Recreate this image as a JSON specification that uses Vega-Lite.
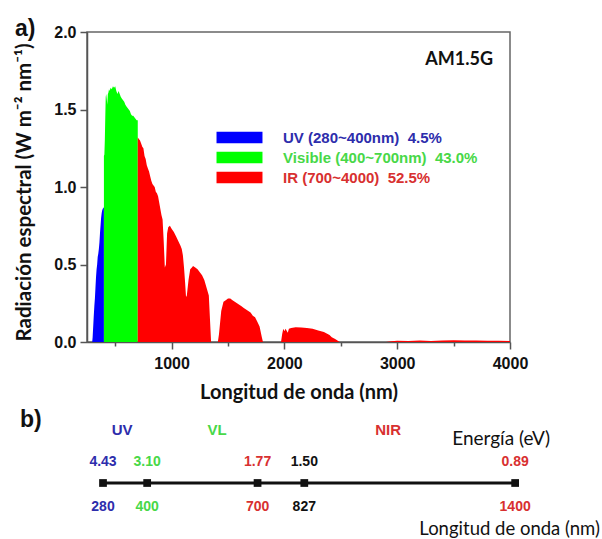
{
  "$schema": "https://vega.github.io/schema/vega-lite/v6.json",
  "padding": {"left": 14, "top": 17, "right": 0, "bottom": 0},
  "background": "white",
  "bounds": "flush",
  "spacing": 91,
  "config": {"view": {"stroke": null}, "font": "Liberation Sans"},
  "resolve": {"scale": {"color": "independent"}},
  "vconcat": [
    {
      "width": 423,
      "height": 310,
      "title": {"text": "a)", "anchor": "start", "frame": "group", "dx": -72, "fontSize": 23, "fontWeight": "bold", "font": "Liberation Sans", "color": "#111", "baseline": "alphabetic", "offset": -35},
      "view": {"stroke": "#666", "strokeWidth": 1.5},
      "layer": [
        {
          "data": {"values": [
            {"band": "UV", "wl": 280, "val": 0}, {"band": "UV", "wl": 296, "val": 0}, {"band": "UV", "wl": 300, "val": 0.03},
            {"band": "UV", "wl": 305, "val": 0.1}, {"band": "UV", "wl": 310, "val": 0.17}, {"band": "UV", "wl": 315, "val": 0.23},
            {"band": "UV", "wl": 320, "val": 0.28}, {"band": "UV", "wl": 325, "val": 0.35}, {"band": "UV", "wl": 330, "val": 0.42},
            {"band": "UV", "wl": 335, "val": 0.47}, {"band": "UV", "wl": 340, "val": 0.5}, {"band": "UV", "wl": 345, "val": 0.55},
            {"band": "UV", "wl": 350, "val": 0.57}, {"band": "UV", "wl": 355, "val": 0.6}, {"band": "UV", "wl": 360, "val": 0.64},
            {"band": "UV", "wl": 365, "val": 0.7}, {"band": "UV", "wl": 370, "val": 0.75}, {"band": "UV", "wl": 375, "val": 0.8},
            {"band": "UV", "wl": 380, "val": 0.83}, {"band": "UV", "wl": 385, "val": 0.85}, {"band": "UV", "wl": 390, "val": 0.86},
            {"band": "UV", "wl": 400, "val": 0.87},
            {"band": "Visible", "wl": 400, "val": 1.2}, {"band": "Visible", "wl": 404, "val": 1.21}, {"band": "Visible", "wl": 408, "val": 1.3},
            {"band": "Visible", "wl": 412, "val": 1.45}, {"band": "Visible", "wl": 416, "val": 1.58}, {"band": "Visible", "wl": 420, "val": 1.6},
            {"band": "Visible", "wl": 425, "val": 1.57}, {"band": "Visible", "wl": 430, "val": 1.53}, {"band": "Visible", "wl": 435, "val": 1.6},
            {"band": "Visible", "wl": 440, "val": 1.61}, {"band": "Visible", "wl": 445, "val": 1.63}, {"band": "Visible", "wl": 450, "val": 1.62},
            {"band": "Visible", "wl": 460, "val": 1.64}, {"band": "Visible", "wl": 470, "val": 1.63}, {"band": "Visible", "wl": 480, "val": 1.65},
            {"band": "Visible", "wl": 490, "val": 1.64}, {"band": "Visible", "wl": 500, "val": 1.65}, {"band": "Visible", "wl": 510, "val": 1.62},
            {"band": "Visible", "wl": 520, "val": 1.6}, {"band": "Visible", "wl": 530, "val": 1.62}, {"band": "Visible", "wl": 540, "val": 1.6},
            {"band": "Visible", "wl": 550, "val": 1.58}, {"band": "Visible", "wl": 560, "val": 1.57}, {"band": "Visible", "wl": 570, "val": 1.56},
            {"band": "Visible", "wl": 580, "val": 1.55}, {"band": "Visible", "wl": 590, "val": 1.53}, {"band": "Visible", "wl": 600, "val": 1.52},
            {"band": "Visible", "wl": 610, "val": 1.51}, {"band": "Visible", "wl": 620, "val": 1.5}, {"band": "Visible", "wl": 630, "val": 1.49},
            {"band": "Visible", "wl": 640, "val": 1.47}, {"band": "Visible", "wl": 650, "val": 1.46}, {"band": "Visible", "wl": 660, "val": 1.46},
            {"band": "Visible", "wl": 670, "val": 1.45}, {"band": "Visible", "wl": 680, "val": 1.44}, {"band": "Visible", "wl": 690, "val": 1.43},
            {"band": "Visible", "wl": 700, "val": 1.43},
            {"band": "IR", "wl": 700, "val": 1.32}, {"band": "IR", "wl": 710, "val": 1.31}, {"band": "IR", "wl": 720, "val": 1.3},
            {"band": "IR", "wl": 730, "val": 1.28}, {"band": "IR", "wl": 740, "val": 1.26}, {"band": "IR", "wl": 750, "val": 1.25},
            {"band": "IR", "wl": 760, "val": 1.2}, {"band": "IR", "wl": 770, "val": 1.18}, {"band": "IR", "wl": 780, "val": 1.14},
            {"band": "IR", "wl": 790, "val": 1.12}, {"band": "IR", "wl": 800, "val": 1.1}, {"band": "IR", "wl": 810, "val": 1.07},
            {"band": "IR", "wl": 820, "val": 1.04}, {"band": "IR", "wl": 830, "val": 1.02}, {"band": "IR", "wl": 840, "val": 1.01},
            {"band": "IR", "wl": 850, "val": 1.0}, {"band": "IR", "wl": 860, "val": 0.97}, {"band": "IR", "wl": 870, "val": 0.96},
            {"band": "IR", "wl": 880, "val": 0.94}, {"band": "IR", "wl": 890, "val": 0.9}, {"band": "IR", "wl": 900, "val": 0.86},
            {"band": "IR", "wl": 910, "val": 0.82}, {"band": "IR", "wl": 920, "val": 0.79}, {"band": "IR", "wl": 930, "val": 0.65},
            {"band": "IR", "wl": 940, "val": 0.48}, {"band": "IR", "wl": 950, "val": 0.5}, {"band": "IR", "wl": 960, "val": 0.7},
            {"band": "IR", "wl": 970, "val": 0.74}, {"band": "IR", "wl": 985, "val": 0.75}, {"band": "IR", "wl": 1000, "val": 0.73},
            {"band": "IR", "wl": 1020, "val": 0.71}, {"band": "IR", "wl": 1040, "val": 0.68}, {"band": "IR", "wl": 1060, "val": 0.65},
            {"band": "IR", "wl": 1080, "val": 0.62}, {"band": "IR", "wl": 1090, "val": 0.6}, {"band": "IR", "wl": 1100, "val": 0.56},
            {"band": "IR", "wl": 1110, "val": 0.48}, {"band": "IR", "wl": 1120, "val": 0.38}, {"band": "IR", "wl": 1128, "val": 0.29},
            {"band": "IR", "wl": 1135, "val": 0.3}, {"band": "IR", "wl": 1150, "val": 0.4}, {"band": "IR", "wl": 1165, "val": 0.47},
            {"band": "IR", "wl": 1180, "val": 0.48}, {"band": "IR", "wl": 1190, "val": 0.49}, {"band": "IR", "wl": 1210, "val": 0.48},
            {"band": "IR", "wl": 1230, "val": 0.47}, {"band": "IR", "wl": 1250, "val": 0.45}, {"band": "IR", "wl": 1270, "val": 0.43},
            {"band": "IR", "wl": 1290, "val": 0.4}, {"band": "IR", "wl": 1310, "val": 0.35}, {"band": "IR", "wl": 1330, "val": 0.3},
            {"band": "IR", "wl": 1340, "val": 0.15}, {"band": "IR", "wl": 1350, "val": 0}, {"band": "IR", "wl": 1410, "val": 0},
            {"band": "IR", "wl": 1420, "val": 0.05}, {"band": "IR", "wl": 1440, "val": 0.2}, {"band": "IR", "wl": 1460, "val": 0.26},
            {"band": "IR", "wl": 1480, "val": 0.27}, {"band": "IR", "wl": 1500, "val": 0.28}, {"band": "IR", "wl": 1520, "val": 0.28},
            {"band": "IR", "wl": 1540, "val": 0.27}, {"band": "IR", "wl": 1560, "val": 0.26}, {"band": "IR", "wl": 1580, "val": 0.25},
            {"band": "IR", "wl": 1600, "val": 0.24}, {"band": "IR", "wl": 1620, "val": 0.23}, {"band": "IR", "wl": 1640, "val": 0.22},
            {"band": "IR", "wl": 1660, "val": 0.21}, {"band": "IR", "wl": 1680, "val": 0.2}, {"band": "IR", "wl": 1700, "val": 0.19},
            {"band": "IR", "wl": 1720, "val": 0.17}, {"band": "IR", "wl": 1740, "val": 0.16}, {"band": "IR", "wl": 1760, "val": 0.13},
            {"band": "IR", "wl": 1780, "val": 0.1}, {"band": "IR", "wl": 1800, "val": 0.03}, {"band": "IR", "wl": 1810, "val": 0},
            {"band": "IR", "wl": 1970, "val": 0}, {"band": "IR", "wl": 1980, "val": 0.05}, {"band": "IR", "wl": 1990, "val": 0.085},
            {"band": "IR", "wl": 2000, "val": 0.07}, {"band": "IR", "wl": 2010, "val": 0.085}, {"band": "IR", "wl": 2030, "val": 0.06},
            {"band": "IR", "wl": 2040, "val": 0.085}, {"band": "IR", "wl": 2060, "val": 0.09}, {"band": "IR", "wl": 2100, "val": 0.095},
            {"band": "IR", "wl": 2150, "val": 0.093}, {"band": "IR", "wl": 2200, "val": 0.09}, {"band": "IR", "wl": 2250, "val": 0.085},
            {"band": "IR", "wl": 2300, "val": 0.075}, {"band": "IR", "wl": 2350, "val": 0.065}, {"band": "IR", "wl": 2400, "val": 0.045},
            {"band": "IR", "wl": 2420, "val": 0.03}, {"band": "IR", "wl": 2450, "val": 0.02}, {"band": "IR", "wl": 2490, "val": 0},
            {"band": "IR", "wl": 2900, "val": 0}, {"band": "IR", "wl": 2950, "val": 0.005}, {"band": "IR", "wl": 3000, "val": 0.008},
            {"band": "IR", "wl": 3100, "val": 0.006}, {"band": "IR", "wl": 3200, "val": 0.01}, {"band": "IR", "wl": 3300, "val": 0.006},
            {"band": "IR", "wl": 3400, "val": 0.01}, {"band": "IR", "wl": 3500, "val": 0.012}, {"band": "IR", "wl": 3600, "val": 0.01},
            {"band": "IR", "wl": 3700, "val": 0.009}, {"band": "IR", "wl": 3800, "val": 0.008}, {"band": "IR", "wl": 3900, "val": 0.008},
            {"band": "IR", "wl": 4000, "val": 0.007}
          ]},
          "mark": {"type": "area", "interpolate": "linear", "opacity": 1, "clip": true},
          "encoding": {
            "x": {"field": "wl", "type": "quantitative",
              "scale": {"domain": [250, 4000], "nice": false, "zero": false},
              "axis": {"values": [500, 1000, 1500, 2000, 2500, 3000, 3500, 4000], "format": "d",
                "labelExpr": "datum.value % 1000 == 0 ? datum.label : ''",
                "title": "Longitud de onda (nm)", "grid": false,
                "tickSize": {"condition": {"test": "datum.value % 1000 != 0", "value": 4}, "value": 7},
                "domainColor": "#555", "tickColor": "#555", "domainWidth": 1.5, "tickWidth": 1.5,
                "labelFont": "Liberation Sans", "labelFontWeight": "bold", "labelFontSize": 16, "labelColor": "#111",
                "labelPadding": 6, "labelFlush": false, "labelOverlap": false,
                "titleFont": "Lato", "titleFontSize": 20, "titleFontWeight": "bold", "titleColor": "#111", "titlePadding": 11}},
            "y": {"field": "val", "type": "quantitative", "stack": null,
              "scale": {"domain": [0, 2], "nice": false},
              "axis": {"values": [0, 0.25, 0.5, 0.75, 1, 1.25, 1.5, 1.75, 2], "format": ".1f",
                "labelExpr": "(datum.value * 2) % 1 == 0 ? datum.label : ''",
                "title": "Radiación espectral (W m⁻² nm⁻¹)", "grid": false, "titleY": 160,
                "tickSize": {"condition": {"test": "(datum.value * 2) % 1 != 0", "value": 4}, "value": 7},
                "domainColor": "#555", "tickColor": "#555", "domainWidth": 1.5, "tickWidth": 1.5,
                "labelFont": "Liberation Sans", "labelFontWeight": "bold", "labelFontSize": 16, "labelColor": "#111",
                "labelPadding": 4, "labelFlush": false, "labelOverlap": false,
                "titleFont": "Lato", "titleFontSize": 20.5, "titleFontWeight": "bold", "titleColor": "#111", "titlePadding": 19}},
            "color": {"field": "band", "type": "nominal",
              "scale": {"domain": ["UV", "Visible", "IR"], "range": ["#0000ff", "#00ff00", "#ff0000"]},
              "legend": {"orient": "none", "legendX": 145, "legendY": 98, "title": null,
                "symbolType": "M-4,-1L4,-1L4,1L-4,1Z", "symbolSize": 132, "symbolStrokeWidth": 0, "symbolOpacity": 1,
                "labelFont": "Liberation Sans", "labelFontSize": 15, "labelFontWeight": "bold", "labelOffset": 36,
                "rowPadding": 4, "labelLimit": 400,
                "labelExpr": "datum.value == 'UV' ? 'UV (280~400nm)\u00a0\u00a04.5%' : datum.value == 'Visible' ? 'Visible (400~700nm)\u00a0\u00a043.0%' : 'IR (700~4000)\u00a0\u00a052.5%'",
                "labelColor": {"expr": "datum.value == 'UV' ? '#2d2dac' : datum.value == 'Visible' ? '#48d848' : '#d83030'"}}}
          }
        },
        {
          "data": {"values": [{"label": "AM1.5G"}]},
          "mark": {"type": "text", "align": "right", "baseline": "middle", "font": "Lato", "fontWeight": "bold", "fontSize": 18, "color": "#111"},
          "encoding": {"x": {"datum": 3850}, "y": {"datum": 1.82}, "text": {"field": "label"}}
        }
      ]
    },
    {
      "width": 423,
      "height": 100,
      "title": {"text": "b)", "anchor": "start", "frame": "group", "dx": -67, "fontSize": 23, "fontWeight": "bold", "font": "Liberation Sans", "color": "#111", "baseline": "alphabetic", "offset": -27},
      "view": {"stroke": null},
      "layer": [
        {
          "data": {"name": "pts", "values": [
            {"nm": 280, "eV": "4.43", "region": "UV"},
            {"nm": 400, "eV": "3.10", "region": "VL"},
            {"nm": 700, "eV": "1.77", "region": "NIR"},
            {"nm": 827, "eV": "1.50", "region": "other"},
            {"nm": 1400, "eV": "0.89", "region": "NIR"}
          ]},
          "layer": [
            {
              "mark": {"type": "rule", "strokeWidth": 3, "color": "#111"},
              "encoding": {
                "x": {"aggregate": "min", "field": "nm", "type": "quantitative", "scale": {"domain": [236.5, 1386], "nice": false, "zero": false}, "axis": null},
                "x2": {"aggregate": "max", "field": "nm"},
                "y": {"datum": "line", "type": "nominal", "scale": {"type": "point", "domain": ["band", "energy", "line", "wavelength", "title"], "padding": 0}, "axis": null}
              }
            },
            {
              "mark": {"type": "square", "size": 60, "color": "#111", "opacity": 1},
              "encoding": {
                "x": {"field": "nm", "type": "quantitative"},
                "y": {"datum": "line", "type": "nominal"}
              }
            },
            {
              "mark": {"type": "text", "font": "Liberation Sans", "fontWeight": "bold", "fontSize": 14, "baseline": "middle", "dy": 4},
              "encoding": {
                "x": {"field": "nm", "type": "quantitative"},
                "y": {"datum": "energy", "type": "nominal"},
                "text": {"field": "eV"},
                "color": {"field": "region", "type": "nominal", "scale": {"domain": ["UV", "VL", "NIR", "other"], "range": ["#2d2dac", "#48d848", "#d83030", "#111111"]}, "legend": null}
              }
            },
            {
              "mark": {"type": "text", "font": "Liberation Sans", "fontWeight": "bold", "fontSize": 14, "baseline": "middle", "dy": -1},
              "encoding": {
                "x": {"field": "nm", "type": "quantitative"},
                "y": {"datum": "wavelength", "type": "nominal"},
                "text": {"field": "nm", "type": "quantitative", "format": "d"},
                "color": {"field": "region", "type": "nominal", "legend": null}
              }
            }
          ]
        },
        {
          "data": {"values": [
            {"name": "UV", "nm": 332, "region": "UV"},
            {"name": "VL", "nm": 590, "region": "VL"},
            {"name": "NIR", "nm": 1055, "region": "NIR"}
          ]},
          "mark": {"type": "text", "font": "Liberation Sans", "fontWeight": "bold", "fontSize": 15, "baseline": "middle", "dy": -3},
          "encoding": {
            "x": {"field": "nm", "type": "quantitative"},
            "y": {"datum": "band", "type": "nominal"},
            "text": {"field": "name"},
            "color": {"field": "region", "type": "nominal", "legend": null}
          }
        },
        {
          "data": {"values": [{"label": "Energía (eV)"}]},
          "mark": {"type": "text", "font": "Lato", "fontSize": 19, "baseline": "middle", "dy": 6, "color": "#111"},
          "encoding": {"x": {"datum": 1362}, "y": {"datum": "band", "type": "nominal"}, "text": {"field": "label"}}
        },
        {
          "data": {"values": [{"label": "Longitud de onda (nm)"}]},
          "mark": {"type": "text", "font": "Lato", "fontSize": 18.5, "baseline": "middle", "dy": -4, "color": "#111"},
          "encoding": {"x": {"datum": 1385}, "y": {"datum": "title", "type": "nominal"}, "text": {"field": "label"}}
        }
      ]
    }
  ]
}
